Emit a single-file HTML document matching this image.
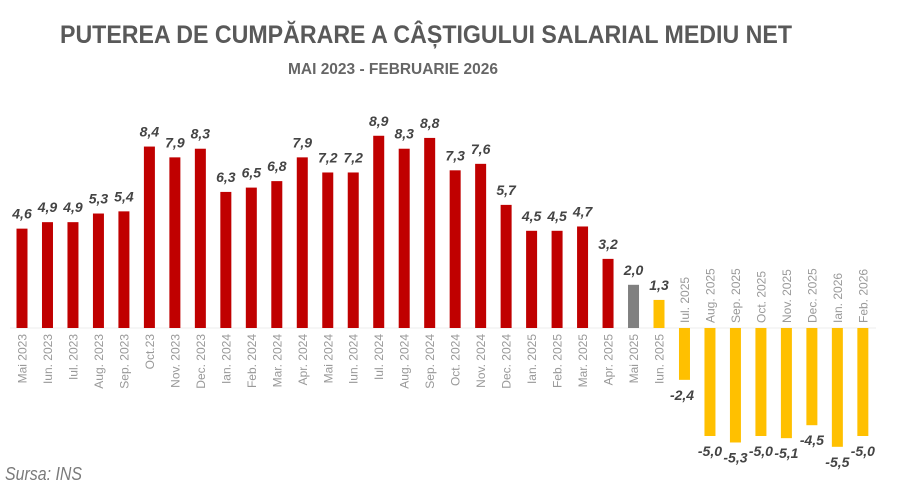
<!DOCTYPE html>
<html><head><meta charset="utf-8"><style>
html,body{margin:0;padding:0;background:#fff;}
svg{display:block;}
.t{font-family:"Liberation Sans",sans-serif;}
.v{font-family:"Liberation Sans",sans-serif;font-weight:bold;font-style:italic;font-size:14px;fill:#444;text-anchor:middle;}
.a{font-family:"Liberation Sans",sans-serif;font-size:12px;fill:#999;}
</style></head><body>
<svg width="900" height="490" viewBox="0 0 900 490" xmlns="http://www.w3.org/2000/svg">
<rect width="900" height="490" fill="#fff"/>
<text class="t" x="60" y="43" font-size="25" font-weight="bold" fill="#595959" textLength="732" lengthAdjust="spacingAndGlyphs">PUTEREA DE CUMPĂRARE A CÂȘTIGULUI SALARIAL MEDIU NET</text>
<text class="t" x="288" y="74" font-size="16" font-weight="bold" fill="#666" textLength="210" lengthAdjust="spacingAndGlyphs">MAI 2023 - FEBRUARIE 2026</text>
<text class="t" x="5" y="480" font-size="18" font-style="italic" fill="#7a7a7a" textLength="77" lengthAdjust="spacingAndGlyphs">Sursa: INS</text>
<line x1="10" y1="328" x2="876" y2="328" stroke="#eeeeee" stroke-width="1"/>
<g fill="#C00000">
<rect x="16.5" y="228.64" width="11" height="99.36"/>
<rect x="41.98" y="222.16" width="11" height="105.84"/>
<rect x="67.46" y="222.16" width="11" height="105.84"/>
<rect x="92.94" y="213.52" width="11" height="114.48"/>
<rect x="118.42" y="211.36" width="11" height="116.64"/>
<rect x="143.9" y="146.56" width="11" height="181.44"/>
<rect x="169.38" y="157.36" width="11" height="170.64"/>
<rect x="194.86" y="148.72" width="11" height="179.28"/>
<rect x="220.34" y="191.92" width="11" height="136.08"/>
<rect x="245.82" y="187.6" width="11" height="140.4"/>
<rect x="271.3" y="181.12" width="11" height="146.88"/>
<rect x="296.78" y="157.36" width="11" height="170.64"/>
<rect x="322.26" y="172.48" width="11" height="155.52"/>
<rect x="347.74" y="172.48" width="11" height="155.52"/>
<rect x="373.22" y="135.76" width="11" height="192.24"/>
<rect x="398.7" y="148.72" width="11" height="179.28"/>
<rect x="424.18" y="137.92" width="11" height="190.08"/>
<rect x="449.66" y="170.32" width="11" height="157.68"/>
<rect x="475.14" y="163.84" width="11" height="164.16"/>
<rect x="500.62" y="204.88" width="11" height="123.12"/>
<rect x="526.1" y="230.8" width="11" height="97.2"/>
<rect x="551.58" y="230.8" width="11" height="97.2"/>
<rect x="577.06" y="226.48" width="11" height="101.52"/>
<rect x="602.54" y="258.88" width="11" height="69.12"/>
</g>
<rect x="628.02" y="284.8" width="11" height="43.2" fill="#808080"/>
<g fill="#FFC000">
<rect x="653.5" y="299.92" width="11" height="28.08"/>
<rect x="678.98" y="328" width="11" height="51.84"/>
<rect x="704.46" y="328" width="11" height="108"/>
<rect x="729.94" y="328" width="11" height="114.48"/>
<rect x="755.42" y="328" width="11" height="108"/>
<rect x="780.9" y="328" width="11" height="110.16"/>
<rect x="806.38" y="328" width="11" height="97.2"/>
<rect x="831.86" y="328" width="11" height="118.8"/>
<rect x="857.34" y="328" width="11" height="108"/>
</g>
<g>
<text class="v" x="22" y="218.64">4,6</text>
<text class="v" x="47.48" y="212.16">4,9</text>
<text class="v" x="72.96" y="212.16">4,9</text>
<text class="v" x="98.44" y="203.52">5,3</text>
<text class="v" x="123.92" y="201.36">5,4</text>
<text class="v" x="149.4" y="136.56">8,4</text>
<text class="v" x="174.88" y="147.36">7,9</text>
<text class="v" x="200.36" y="138.72">8,3</text>
<text class="v" x="225.84" y="181.92">6,3</text>
<text class="v" x="251.32" y="177.6">6,5</text>
<text class="v" x="276.8" y="171.12">6,8</text>
<text class="v" x="302.28" y="147.36">7,9</text>
<text class="v" x="327.76" y="162.48">7,2</text>
<text class="v" x="353.24" y="162.48">7,2</text>
<text class="v" x="378.72" y="125.76">8,9</text>
<text class="v" x="404.2" y="138.72">8,3</text>
<text class="v" x="429.68" y="127.92">8,8</text>
<text class="v" x="455.16" y="160.32">7,3</text>
<text class="v" x="480.64" y="153.84">7,6</text>
<text class="v" x="506.12" y="194.88">5,7</text>
<text class="v" x="531.6" y="220.8">4,5</text>
<text class="v" x="557.08" y="220.8">4,5</text>
<text class="v" x="582.56" y="216.48">4,7</text>
<text class="v" x="608.04" y="248.88">3,2</text>
<text class="v" x="633.52" y="274.8">2,0</text>
<text class="v" x="659" y="289.92">1,3</text>
<text class="v" x="682" y="399.84">-2,4</text>
<text class="v" x="709.96" y="456">-5,0</text>
<text class="v" x="735.44" y="462.48">-5,3</text>
<text class="v" x="760.92" y="456">-5,0</text>
<text class="v" x="786.4" y="458.16">-5,1</text>
<text class="v" x="811.88" y="445.2">-4,5</text>
<text class="v" x="837.36" y="466.8">-5,5</text>
<text class="v" x="862.84" y="456">-5,0</text>
</g>
<g class="a" text-anchor="end">
<text class="a" text-anchor="end" transform="translate(26.5,334) rotate(-90)">Mai 2023</text>
<text class="a" text-anchor="end" transform="translate(51.98,334) rotate(-90)">Iun. 2023</text>
<text class="a" text-anchor="end" transform="translate(77.46,334) rotate(-90)">Iul. 2023</text>
<text class="a" text-anchor="end" transform="translate(102.94,334) rotate(-90)">Aug. 2023</text>
<text class="a" text-anchor="end" transform="translate(128.42,334) rotate(-90)">Sep. 2023</text>
<text class="a" text-anchor="end" transform="translate(153.9,334) rotate(-90)">Oct.23</text>
<text class="a" text-anchor="end" transform="translate(179.38,334) rotate(-90)">Nov. 2023</text>
<text class="a" text-anchor="end" transform="translate(204.86,334) rotate(-90)">Dec. 2023</text>
<text class="a" text-anchor="end" transform="translate(230.34,334) rotate(-90)">Ian. 2024</text>
<text class="a" text-anchor="end" transform="translate(255.82,334) rotate(-90)">Feb. 2024</text>
<text class="a" text-anchor="end" transform="translate(281.3,334) rotate(-90)">Mar. 2024</text>
<text class="a" text-anchor="end" transform="translate(306.78,334) rotate(-90)">Apr. 2024</text>
<text class="a" text-anchor="end" transform="translate(332.26,334) rotate(-90)">Mai 2024</text>
<text class="a" text-anchor="end" transform="translate(357.74,334) rotate(-90)">Iun. 2024</text>
<text class="a" text-anchor="end" transform="translate(383.22,334) rotate(-90)">Iul. 2024</text>
<text class="a" text-anchor="end" transform="translate(408.7,334) rotate(-90)">Aug. 2024</text>
<text class="a" text-anchor="end" transform="translate(434.18,334) rotate(-90)">Sep. 2024</text>
<text class="a" text-anchor="end" transform="translate(459.66,334) rotate(-90)">Oct. 2024</text>
<text class="a" text-anchor="end" transform="translate(485.14,334) rotate(-90)">Nov. 2024</text>
<text class="a" text-anchor="end" transform="translate(510.62,334) rotate(-90)">Dec. 2024</text>
<text class="a" text-anchor="end" transform="translate(536.1,334) rotate(-90)">Ian. 2025</text>
<text class="a" text-anchor="end" transform="translate(561.58,334) rotate(-90)">Feb. 2025</text>
<text class="a" text-anchor="end" transform="translate(587.06,334) rotate(-90)">Mar. 2025</text>
<text class="a" text-anchor="end" transform="translate(612.54,334) rotate(-90)">Apr. 2025</text>
<text class="a" text-anchor="end" transform="translate(638.02,334) rotate(-90)">Mai 2025</text>
<text class="a" text-anchor="end" transform="translate(663.5,334) rotate(-90)">Iun. 2025</text>
</g>
<g>
<text class="a" text-anchor="start" transform="translate(688.98,323) rotate(-90)">Iul. 2025</text>
<text class="a" text-anchor="start" transform="translate(714.46,323) rotate(-90)">Aug. 2025</text>
<text class="a" text-anchor="start" transform="translate(739.94,323) rotate(-90)">Sep. 2025</text>
<text class="a" text-anchor="start" transform="translate(765.42,323) rotate(-90)">Oct. 2025</text>
<text class="a" text-anchor="start" transform="translate(790.9,323) rotate(-90)">Nov. 2025</text>
<text class="a" text-anchor="start" transform="translate(816.38,323) rotate(-90)">Dec. 2025</text>
<text class="a" text-anchor="start" transform="translate(841.86,323) rotate(-90)">Ian. 2026</text>
<text class="a" text-anchor="start" transform="translate(867.34,323) rotate(-90)">Feb. 2026</text>
</g>
</svg>
</body></html>
